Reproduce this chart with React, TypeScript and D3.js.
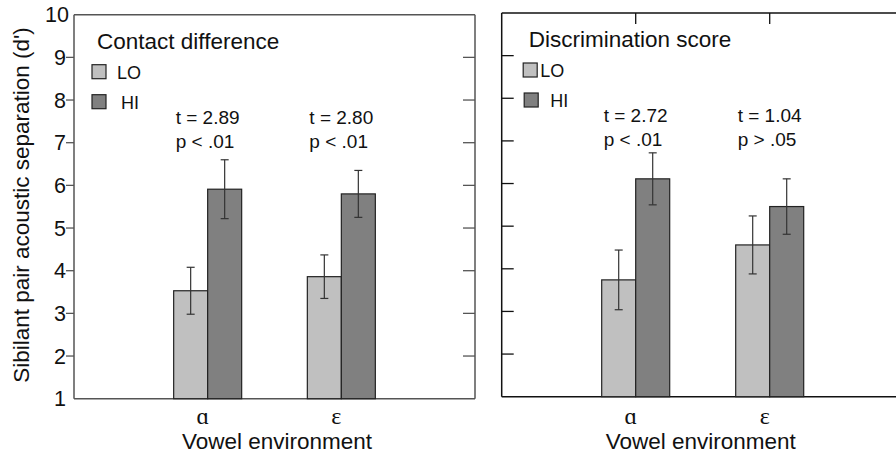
import React from "react";
import * as d3 from "d3";

// vowel environments
const categories = ["ɑ", "ε"];
const groups = ["LO", "HI"];

// left panel: contact difference (means and error half-widths)
const contactLo = [3.53, 3.86];
const contactLoErr = [0.55, 0.51];
const contactHi = [5.91, 5.8];
const contactHiErr = [0.69, 0.55];
const contactStats = [
  ["t = 2.89", "p < .01"],
  ["t = 2.80", "p < .01"],
];

// right panel: discrimination score
const discLo = [3.74, 4.56];
const discLoErr = [0.7, 0.68];
const discHi = [6.11, 5.46];
const discHiErr = [0.61, 0.65];
const discStats = [
  ["t = 2.72", "p < .01"],
  ["t = 1.04", "p > .05"],
];

const yTicks = [1, 2, 3, 4, 5, 6, 7, 8, 9, 10];

const FONT = "'Liberation Sans', Arial, sans-serif";
const SERIF = "'Liberation Serif', 'DejaVu Serif', serif";
const fill = { LO: "#c0c0c0", HI: "#808080" };

function Panel({ left, top, bottom, width, title, lo, loErr, hi, hiErr, stats, isLeft }) {
  const y = d3.scaleLinear().domain([1, 10]).range([bottom, top]);
  const x = d3.scaleLinear().domain([0, 3]).range([left, left + width]);
  const inner = d3.scaleBand().domain(groups).range([-34, 34]);
  const axisColor = isLeft ? "#555" : "#111";
  const right = left + width;

  const series = [
    { key: "LO", vals: lo, errs: loErr },
    { key: "HI", vals: hi, errs: hiErr },
  ];

  // legend offsets from the panel's left edge
  const titleDx = isLeft ? 23 : 27;
  const boxDx = isLeft ? [18, 18] : [21.5, 22.5];
  const labelDx = isLeft ? [43, 47] : [38.5, 48.5];

  return (
    <g fontFamily={FONT}>
      {/* frame */}
      <line x1={left} x2={left} y1={top} y2={bottom} stroke={axisColor} strokeWidth={1.5} />
      <line x1={left} x2={right} y1={top} y2={top} stroke={axisColor} strokeWidth={1.5} />
      <line x1={left} x2={right} y1={bottom} y2={bottom} stroke={axisColor} strokeWidth={1.5} />
      {isLeft && <line x1={right} x2={right} y1={top} y2={bottom} stroke={axisColor} strokeWidth={1.5} />}

      {/* y ticks */}
      {yTicks.slice(1, -1).map((t) => (
        <g key={t}>
          {isLeft ? (
            <>
              <line x1={left - 8} x2={left} y1={y(t)} y2={y(t)} stroke={axisColor} strokeWidth={1.3} />
              <line x1={right - 12} x2={right} y1={y(t)} y2={y(t)} stroke={axisColor} strokeWidth={1.3} />
            </>
          ) : (
            <line x1={left} x2={left + 12} y1={y(t)} y2={y(t)} stroke={axisColor} strokeWidth={1.3} />
          )}
        </g>
      ))}
      {isLeft &&
        yTicks.map((t) => (
          <text key={t} x={left - (t === 10 ? 5 : 8)} y={y(t) + 7.5} textAnchor="end" fontSize={21.5} fill="#111">
            {t}
          </text>
        ))}
      {!isLeft &&
        categories.map((c, i) => (
          <line key={c} x1={x(i + 1)} x2={x(i + 1)} y1={top} y2={top + 11} stroke={axisColor} strokeWidth={1.3} />
        ))}

      {/* bars */}
      {series.map((s) =>
        categories.map((c, i) => {
          const bx = x(i + 1) + inner(s.key);
          const bw = inner.bandwidth();
          const cx = bx + bw / 2;
          const v = s.vals[i];
          const e = s.errs[i];
          return (
            <g key={s.key + c}>
              <rect x={bx} y={y(v)} width={bw} height={bottom - y(v)} fill={fill[s.key]} stroke="#222" strokeWidth={1.2} />
              <line x1={cx} x2={cx} y1={y(v + e)} y2={y(v - e)} stroke="#333" strokeWidth={1.2} />
              <line x1={cx - 4} x2={cx + 4} y1={y(v + e)} y2={y(v + e)} stroke="#333" strokeWidth={1.2} />
              <line x1={cx - 4} x2={cx + 4} y1={y(v - e)} y2={y(v - e)} stroke="#333" strokeWidth={1.2} />
            </g>
          );
        })
      )}

      {/* stats */}
      {stats.map((st, i) => (
        <g key={i} fontSize={19} fill="#111">
          <text x={x(i + 1) - 32} y={top + 109}>{st[0]}</text>
          <text x={x(i + 1) - 32} y={top + 133}>{st[1]}</text>
        </g>
      ))}

      {/* legend */}
      <text x={left + titleDx} y={top + 34} fontSize={22.5} fill="#111">
        {title}
      </text>
      {groups.map((g, j) => (
        <g key={g}>
          <rect
            x={left + boxDx[j]}
            y={top + 50 + j * 30}
            width={14}
            height={14}
            fill={fill[g]}
            stroke="#222"
            strokeWidth={1.2}
          />
          <text x={left + labelDx[j]} y={top + 64 + j * 30} fontSize={18} fill="#111">
            {g}
          </text>
        </g>
      ))}

      {/* category labels */}
      {categories.map((c, i) => (
        <text key={c} x={x(i + 1) - 5} y={424} textAnchor="middle" fontSize={24} fontFamily={SERIF} fill="#111">
          {c}
        </text>
      ))}
      <text x={(x(1) + x(2)) / 2 + (isLeft ? 2.5 : -2)} y={448.5} textAnchor="middle" fontSize={22.5} fill="#111">
        Vowel environment
      </text>
    </g>
  );
}

export default function App() {
  return (
    <svg width={896} height={453} style={{ position: "absolute", left: 0, top: 0, background: "#fff" }}>
      <rect width={896} height={453} fill="#fff" />
      <text
        transform="translate(29,205) rotate(-90)"
        textAnchor="middle"
        fontSize={22.5}
        fontFamily={FONT}
        fill="#111"
      >
        Sibilant pair acoustic separation (d')
      </text>
      <Panel
        left={74}
        top={14.7}
        bottom={398.7}
        width={401}
        title="Contact difference"
        lo={contactLo}
        loErr={contactLoErr}
        hi={contactHi}
        hiErr={contactHiErr}
        stats={contactStats}
        isLeft={true}
      />
      <Panel
        left={501.7}
        top={13}
        bottom={396.7}
        width={402}
        title="Discrimination score"
        lo={discLo}
        loErr={discLoErr}
        hi={discHi}
        hiErr={discHiErr}
        stats={discStats}
        isLeft={false}
      />
    </svg>
  );
}
